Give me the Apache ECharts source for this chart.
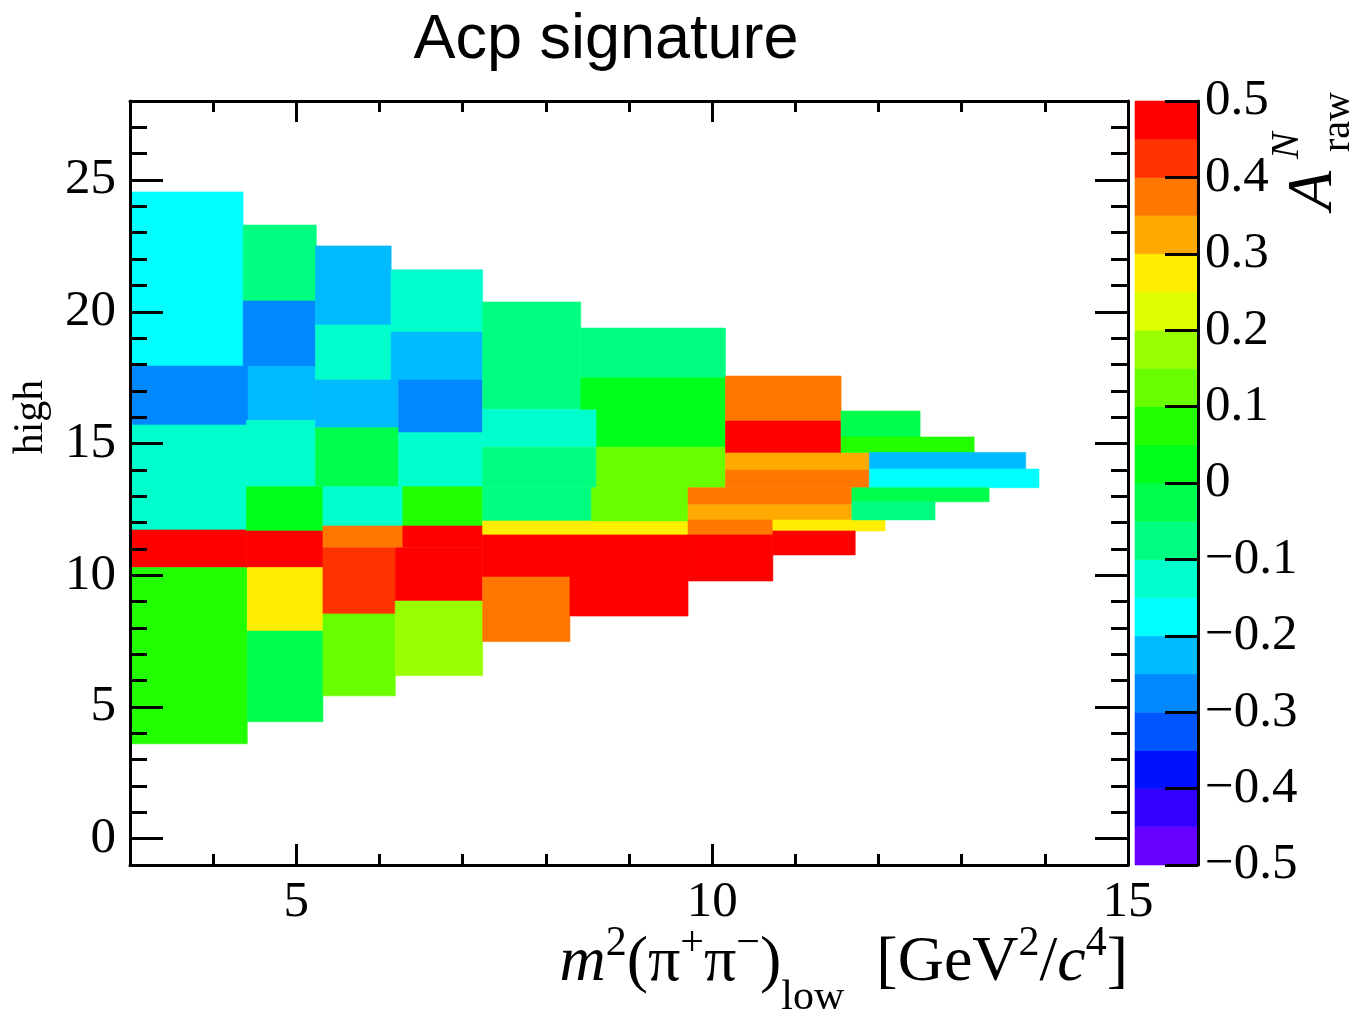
<!DOCTYPE html>
<html>
<head>
<meta charset="utf-8">
<title>Acp signature</title>
<script src="https://cdn.jsdelivr.net/npm/echarts@6/dist/echarts.min.js"></script>
<style>
  html, body { margin: 0; padding: 0; background: #ffffff; }
  #chart { width: 1351px; height: 1016px; }
</style>
</head>
<body>
<div id="chart"></div>
<script>
// Adaptive 2D bins: m^2(pi+pi-)_low range, m^2(pi+pi-)_high range, raw asymmetry
const cellXLow  = [3.00, 3.00, 3.00, 3.00, 3.00,
                   4.36, 4.36, 4.42, 4.40, 4.40, 4.40, 4.41, 4.41,
                   5.23, 5.23, 5.23, 5.23, 5.32, 5.32, 5.32, 5.32,
                   6.14, 6.14, 6.23, 6.23, 6.28, 6.28, 6.19, 6.19,
                   7.24, 7.24, 7.24, 7.24, 7.24, 7.24, 7.24, 8.29,
                   8.42, 8.42, 8.61, 8.61, 8.55,
                   10.16, 10.16, 10.16, 10.16, 9.71, 9.71, 9.71, 9.71, 10.73, 10.73,
                   11.55, 11.55, 11.89, 11.89, 11.68, 11.68];
const cellXHigh = [4.36, 4.42, 4.40, 4.40, 4.41,
                   5.24, 5.23, 5.23, 5.23, 5.32, 5.32, 5.32, 5.32,
                   6.14, 6.14, 6.23, 6.23, 6.28, 6.28, 6.19, 6.19,
                   7.24, 7.24, 7.24, 7.24, 7.24, 7.24, 7.24, 7.24,
                   8.42, 8.61, 8.61, 8.55, 9.71, 9.71, 8.29, 9.71,
                   10.16, 10.16, 10.16, 10.16, 9.71,
                   11.55, 11.55, 11.89, 11.89, 11.68, 11.68, 10.73, 10.73, 12.08, 11.72,
                   12.50, 13.15, 13.77, 13.93, 13.33, 12.68];
const cellYLow  = [17.94, 15.70, 11.72, 10.29, 3.60,
                   20.41, 17.92, 15.87, 13.36, 11.68, 10.29, 7.88, 4.44,
                   19.50, 17.41, 15.60, 13.36, 11.87, 11.04, 8.53, 5.42,
                   19.23, 17.41, 15.41, 13.36, 11.87, 11.04, 9.02, 6.19,
                   16.30, 14.86, 13.32, 12.06, 11.53, 9.93, 7.48, 8.45,
                   17.49, 16.30, 14.86, 13.32, 12.06,
                   15.85, 14.64, 13.99, 13.32, 12.67, 12.10, 11.53, 9.78, 11.68, 10.77,
                   15.25, 14.66, 14.03, 13.32, 12.79, 12.10];
const cellYHigh = [24.55, 17.94, 15.70, 11.72, 10.29,
                   23.29, 20.41, 17.92, 15.87, 13.36, 11.68, 10.29, 7.88,
                   22.50, 19.50, 17.41, 15.60, 13.36, 11.87, 11.04, 8.53,
                   21.59, 19.23, 17.41, 15.41, 13.36, 11.87, 11.04, 9.02,
                   20.37, 16.30, 14.86, 13.32, 12.06, 11.53, 9.93, 9.93,
                   19.38, 17.49, 16.30, 14.86, 13.32,
                   17.56, 15.85, 14.64, 13.99, 13.32, 12.67, 12.10, 11.53, 12.10, 11.68,
                   16.23, 15.25, 14.66, 14.03, 13.32, 12.79];
const cellAcp   = [-0.17, -0.27, -0.12, 0.48, 0.07,
                   -0.08, -0.28, -0.23, -0.12, 0.02, 0.47, 0.28, -0.03,
                   -0.22, -0.13, -0.24, -0.03, -0.12, 0.37, 0.42, 0.12,
                   -0.13, -0.22, -0.28, -0.11, 0.08, 0.46, 0.47, 0.17,
                   -0.07, -0.12, -0.06, -0.08, 0.28, 0.48, 0.38, 0.46,
                   -0.07, 0.03, 0.02, 0.12, 0.13,
                   0.37, 0.47, 0.32, 0.38, 0.36, 0.33, 0.39, 0.47, 0.28, 0.48,
                   -0.02, 0.06, -0.23, -0.18, -0.03, -0.07];

// Axis ticks
const xMajorTicks = [5, 10, 15];
const xMinorTicks = [4, 6, 7, 8, 9, 11, 12, 13, 14];
const yMajorTicks = [0, 5, 10, 15, 20, 25];
const yMinorTicks = [1, 2, 3, 4, 6, 7, 8, 9, 11, 12, 13, 14, 16, 17, 18, 19, 21, 22, 23, 24, 26, 27];

// Colour scale: 20 contour levels between -0.5 and 0.5
const zLevels = [-0.50, -0.45, -0.40, -0.35, -0.30, -0.25, -0.20, -0.15, -0.10, -0.05, 0.00,
                 0.05, 0.10, 0.15, 0.20, 0.25, 0.30, 0.35, 0.40, 0.45, 0.50];
const zColors = ['#6600ff', '#3300ff', '#0011ff', '#0055ff', '#0088ff', '#00bbff', '#00ffff', '#00ffcc',
                 '#00ff80', '#00ff4d', '#00ff1a', '#22ff00', '#6aff00', '#99ff00', '#ddff00', '#ffee00',
                 '#ffaa00', '#ff7700', '#ff3300', '#ff0000'];

function colorFor(v) {
  for (let i = 0; i < zColors.length; i++) {
    if (v < zLevels[i + 1]) return zColors[i];
  }
  return zColors[zColors.length - 1];
}

const cells = cellAcp.map((v, i) => [cellXLow[i], cellXHigh[i], cellYLow[i], cellYHigh[i], v]);

const SERIF = 'Liberation Serif';
const SANS = 'Liberation Sans';
const BLACK = '#000000';

function valueAxis(extra) {
  return Object.assign({
    type: 'value',
    z: 5,
    splitLine: { show: false },
    axisLine: { show: false, onZero: false },
    axisTick: { show: false },
    axisLabel: { show: false }
  }, extra);
}

const frameLine = { show: true, onZero: false, lineStyle: { color: BLACK, width: 3 } };
const tickStyle = { color: BLACK, width: 3 };
const labelStyle = { show: true, fontFamily: SERIF, fontSize: 51, color: BLACK };

const xAxes = [
  valueAxis({ gridIndex: 0, position: 'bottom', min: 3, max: 15, axisLine: frameLine,
    axisTick: { show: true, inside: true, length: 21, lineStyle: tickStyle, customValues: xMajorTicks },
    axisLabel: Object.assign({ margin: 12, customValues: xMajorTicks }, labelStyle) }),
  valueAxis({ gridIndex: 0, position: 'bottom', min: 3, max: 15,
    axisTick: { show: true, inside: true, length: 11, lineStyle: tickStyle, customValues: xMinorTicks } }),
  valueAxis({ gridIndex: 0, position: 'top', min: 3, max: 15, axisLine: frameLine,
    axisTick: { show: true, inside: true, length: 21, lineStyle: tickStyle, customValues: xMajorTicks } }),
  valueAxis({ gridIndex: 0, position: 'top', min: 3, max: 15,
    axisTick: { show: true, inside: true, length: 11, lineStyle: tickStyle, customValues: xMinorTicks } }),
  valueAxis({ gridIndex: 1, position: 'bottom', min: 0, max: 1 })
];

const yAxes = [
  valueAxis({ gridIndex: 0, position: 'left', min: -1, max: 28, axisLine: frameLine,
    axisTick: { show: true, inside: true, length: 33, lineStyle: tickStyle, customValues: yMajorTicks },
    axisLabel: Object.assign({ margin: 14, customValues: yMajorTicks }, labelStyle) }),
  valueAxis({ gridIndex: 0, position: 'left', min: -1, max: 28,
    axisTick: { show: true, inside: true, length: 17, lineStyle: tickStyle, customValues: yMinorTicks } }),
  valueAxis({ gridIndex: 0, position: 'right', min: -1, max: 28, axisLine: frameLine,
    axisTick: { show: true, inside: true, length: 33, lineStyle: tickStyle, customValues: yMajorTicks } }),
  valueAxis({ gridIndex: 0, position: 'right', min: -1, max: 28,
    axisTick: { show: true, inside: true, length: 17, lineStyle: tickStyle, customValues: yMinorTicks } }),
  valueAxis({ gridIndex: 1, position: 'right', min: -0.5, max: 0.5, interval: 0.1, axisLine: frameLine,
    axisTick: { show: true, inside: true, length: 33, lineStyle: tickStyle },
    axisLabel: Object.assign({ margin: 7, showMinLabel: true, showMaxLabel: true,
      formatter: function (v) {
        const r = Math.round(v * 10) / 10;
        if (r === 0) return '0';
        return (r < 0 ? '\u2212' : '') + Math.abs(r).toFixed(1);
      } }, labelStyle) })
];

// Rich styles for axis titles: every token is top-aligned, and its box height
// sets where the glyphs sit (superscripts high, subscripts low)
function tok(size, boxH, italic) {
  return { fontFamily: SERIF, fontSize: size, fontStyle: italic ? 'italic' : 'normal',
           height: boxH, lineHeight: boxH, verticalAlign: 'top', color: BLACK };
}
const xTitleRich = { rm: tok(64, 64), it: tok(64, 64, true), sp: tok(42, 25), sb: tok(42, 133) };
const yTitleRich = { rm: tok(64, 10), it: tok(64, 10, true), sp: tok(42, 2), sb: tok(42, 133) };

const option = {
  animation: false,
  backgroundColor: '#ffffff',
  grid: [
    { left: 130, top: 101, width: 998, height: 764, containLabel: false },
    { left: 1135, top: 101, width: 63, height: 764, containLabel: false }
  ],
  xAxis: xAxes,
  yAxis: yAxes,
  series: [
    {
      type: 'custom',
      name: 'A_raw',
      xAxisIndex: 0,
      yAxisIndex: 0,
      z: 1,
      clip: true,
      encode: { x: [0, 1], y: [2, 3] },
      data: cells,
      renderItem: function (params, api) {
        const p0 = api.coord([api.value(0), api.value(3)]);
        const p1 = api.coord([api.value(1), api.value(2)]);
        const c = colorFor(api.value(4));
        return {
          type: 'rect',
          shape: { x: p0[0], y: p0[1], width: p1[0] - p0[0], height: p1[1] - p0[1] },
          style: { fill: c, stroke: c, lineWidth: 0.6 }
        };
      }
    },
    {
      type: 'custom',
      name: 'palette',
      xAxisIndex: 4,
      yAxisIndex: 4,
      z: 1,
      data: zColors.map((c, i) => [i]),
      renderItem: function (params, api) {
        const i = api.value(0);
        const p0 = api.coord([0, zLevels[i + 1]]);
        const p1 = api.coord([1, zLevels[i]]);
        return {
          type: 'rect',
          shape: { x: p0[0], y: p0[1], width: p1[0] - p0[0], height: p1[1] - p0[1] },
          style: { fill: zColors[i], stroke: zColors[i], lineWidth: 0.6 }
        };
      }
    }
  ],
  graphic: [
    {
      type: 'text', x: 606, y: 41,
      style: { text: 'Acp signature', fontFamily: SANS, fontSize: 63, fill: BLACK,
               align: 'center', verticalAlign: 'middle' }
    },
    {
      type: 'text', x: 1128, y: 931,
      style: {
        text: '{it|m}{sp|2}{rm|(π}{sp|+}{rm|π}{sp|\u2212}{rm|)}{sb|low}{rm|  [GeV}{sp|2}{rm|/}{it|c}{sp|4}{rm|]}',
        rich: xTitleRich, align: 'right', verticalAlign: 'top'
      }
    },
    {
      type: 'text', x: -36, y: 112, rotation: Math.PI / 2,
      style: {
        text: '{it|m}{sp|2}{rm|(π}{sp|+}{rm|π}{sp|\u2212}{rm|)}{sb|high}{rm| [GeV}{sp|2}{rm|/}{it|c}{sp|4}{rm|]}',
        rich: yTitleRich, align: 'right', verticalAlign: 'top'
      }
    },
    {
      type: 'text', x: 1314, y: 210, rotation: Math.PI / 2,
      style: { text: 'A', fontFamily: SERIF, fontStyle: 'italic', fontSize: 64, fill: BLACK,
               align: 'left', verticalAlign: 'middle' }
    },
    {
      type: 'text', x: 1287, y: 159, rotation: Math.PI / 2,
      style: { text: 'N', fontFamily: SERIF, fontStyle: 'italic', fontSize: 40, fill: BLACK,
               align: 'left', verticalAlign: 'middle' }
    },
    {
      type: 'text', x: 1338, y: 152, rotation: Math.PI / 2,
      style: { text: 'raw', fontFamily: SERIF, fontSize: 40, fill: BLACK,
               align: 'left', verticalAlign: 'middle' }
    }
  ]
};

const chart = echarts.init(document.getElementById('chart'), null, { renderer: 'canvas' });
chart.setOption(option);
</script>
</body>
</html>
